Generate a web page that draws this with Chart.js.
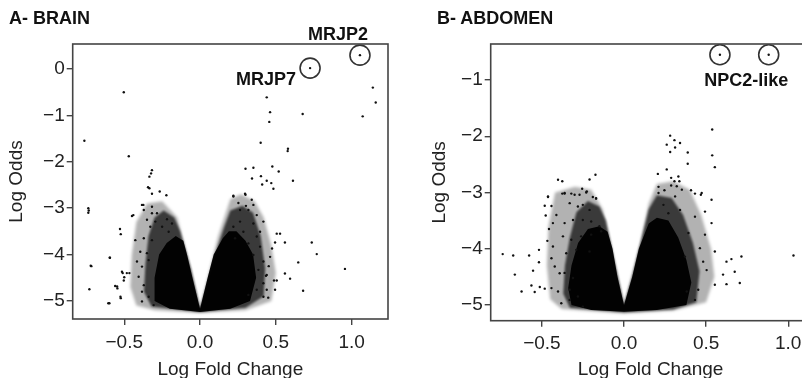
<!DOCTYPE html>
<html>
<head>
<meta charset="utf-8">
<script src="https://cdn.jsdelivr.net/npm/chart.js@4.4.1/dist/chart.umd.min.js"></script>
<style>
  html, body { margin: 0; padding: 0; background: #fff; width: 802px; height: 378px; overflow: hidden; }
  .panel { position: absolute; top: 0; height: 378px; }
  #brainWrap { left: 0; width: 400px; }
  #abdomenWrap { left: 400px; width: 422px; }
  .label { position: absolute; top: 8px; font: bold 18px "Liberation Sans", Arial, sans-serif; color: #111; white-space: nowrap; }
</style>
</head>
<body>
<div class="panel" id="brainWrap"><canvas id="brain" width="400" height="378"></canvas></div>
<div class="panel" id="abdomenWrap"><canvas id="abdomen" width="422" height="378"></canvas></div>
<div class="label" style="left:9px">A- BRAIN</div>
<div class="label" style="left:437px">B- ABDOMEN</div>
<script>
// ---- data ----
const xTicks = [-0.5, 0, 0.5, 1.0];
const brainYTicks = [-5, -4, -3, -2, -1, 0];
const abdomenYTicks = [-5, -4, -3, -2, -1];

// outlines of the cloud (log fold change, log odds): solid core, speckled middle, thin outer fringe
const brainCore = [[0,-5.17],[-0.05,-4.5],[-0.086,-4.0],[-0.11,-3.7],[-0.16,-3.6],[-0.22,-3.75],[-0.27,-4.0],
  [-0.3,-4.5],[-0.3,-5.0],[-0.2,-5.17],[0,-5.24],[0.2,-5.17],[0.33,-5.0],[0.37,-4.5],[0.35,-4.0],[0.3,-3.7],
  [0.24,-3.5],[0.19,-3.5],[0.15,-3.65],[0.09,-4.0],[0.05,-4.5],[0,-5.17]];
const brainMid = [[0,-5.17],[-0.06,-4.3],[-0.13,-3.5],[-0.17,-3.2],[-0.24,-3.05],[-0.3,-3.2],[-0.34,-3.6],
  [-0.36,-4.2],[-0.37,-4.8],[-0.32,-5.12],[0,-5.24],[0.3,-5.15],[0.42,-4.9],[0.43,-4.3],[0.4,-3.6],[0.35,-3.1],
  [0.28,-2.95],[0.2,-3.05],[0.16,-3.4],[0.1,-4.0],[0.05,-4.6],[0,-5.17]];
const brainFringe = [[0,-5.17],[-0.15,-3.2],[-0.25,-2.85],[-0.35,-2.9],[-0.42,-3.3],[-0.45,-4.0],[-0.46,-4.7],
  [-0.42,-5.1],[-0.3,-5.2],[0,-5.26],[0.3,-5.2],[0.47,-5.0],[0.5,-4.4],[0.47,-3.8],[0.42,-3.2],[0.36,-2.85],
  [0.27,-2.7],[0.2,-2.8],[0.12,-3.6],[0,-5.17]];
const brainPoints = [
  [-0.503,-0.50],[-0.763,-1.545],[-0.47,-1.88],[-0.317,-2.18],[-0.323,-2.25],[-0.334,-2.32],[-0.343,-2.55],
  [-0.334,-2.57],[-0.317,-2.69],[-0.266,-2.64],[-0.222,-2.72],
  [1.14,-0.40],[1.159,-0.72],[1.073,-1.02],[0.677,-0.97],[0.44,-0.61],[0.462,-0.93],[0.457,-1.14],[0.40,-1.59],
  [0.58,-1.72],[0.578,-1.77],[0.30,-2.15],[0.352,-2.13],[0.477,-2.10],[0.519,-2.21],[0.343,-2.36],[0.402,-2.31],
  [0.44,-2.41],[0.47,-2.46],[0.41,-2.49],[0.484,-2.58],[0.613,-2.41],[0.22,-2.73],[0.30,-2.71],
  [-0.737,-3.0],[-0.737,-3.1],[-0.721,-4.24],[-0.73,-4.75],[-0.594,-4.07],[-0.605,-5.05],[-0.528,-3.45],
  [-0.523,-3.56],[-0.51,-4.40],[-0.50,-4.49],[-0.56,-4.68],[-0.545,-4.73],[-0.523,-4.94],[-0.483,-4.40],
  [-0.466,-4.40],[-0.44,-3.15],[-0.374,-2.93],
  [0.56,-3.74],[0.737,-3.74],[0.77,-3.99],[0.648,-4.17],[0.956,-4.31],[0.68,-4.78],[0.56,-4.41],[0.594,-4.52],
  [0.506,-4.56],[0.44,-4.76],[0.495,-4.76],[0.528,-3.55],[0.506,-3.55],[0.495,-3.74],[0.418,-3.29],[0.297,-2.69],
  [0.303,-2.95],[0.352,-2.93],[0.396,-3.51],[0.462,-4.05],[0.475,-3.87],[0.453,-4.25],[0.435,-4.46],[0.418,-4.91],
  [0.45,-4.93],[0.488,-4.56],
  [-0.383,-2.93],[-0.317,-2.97],[-0.371,-3.04],[-0.317,-3.11],[-0.284,-3.11],[-0.449,-3.17],[-0.35,-3.25],
  [-0.295,-3.29],[-0.218,-3.24],[-0.185,-3.33],[-0.328,-3.40],[-0.25,-3.40],[-0.207,-3.51],[-0.427,-3.69],
  [-0.371,-3.65],[-0.317,-3.69],[-0.394,-3.94],[-0.35,-3.97],[-0.416,-4.15],[-0.383,-4.26],[-0.339,-4.12],
  [-0.405,-4.48],[-0.371,-4.66],[-0.383,-4.80],[-0.339,-4.91],[-0.306,-5.09],[-0.383,-5.01],[-0.515,-4.37],
  [-0.547,-4.69],[-0.503,-4.56],[-0.525,-4.91],[-0.598,-5.05],[-0.596,-4.07],[-0.717,-4.25],[-0.734,-3.05],
  [0.22,-2.75],[0.253,-2.89],[0.319,-3.04],[0.374,-3.15],[0.264,-3.29],[0.352,-3.33],[0.22,-3.40],[0.286,-3.51],
  [0.374,-3.61],[0.231,-3.65],[0.319,-3.76],[0.396,-3.83],[0.352,-4.01],[0.418,-4.15],[0.385,-4.33],[0.44,-4.44],
  [0.418,-4.62],[0.374,-4.76],[0.319,-4.87],[0.264,-3.04],[0.341,-2.82]
];
const brainHighlight = [[0.726,0.02],[1.055,0.30]];
const brainHighlightNames = ['MRJP7', 'MRJP2'];

const abdomenCore = [[0,-5.0],[-0.04,-4.5],[-0.07,-4.0],[-0.1,-3.7],[-0.15,-3.6],[-0.22,-3.65],[-0.28,-3.9],
  [-0.32,-4.3],[-0.34,-4.7],[-0.32,-5.0],[-0.2,-5.09],[0,-5.12],[0.2,-5.09],[0.38,-5.0],[0.41,-4.6],[0.38,-4.2],
  [0.33,-3.8],[0.27,-3.5],[0.2,-3.45],[0.15,-3.55],[0.09,-4.0],[0.05,-4.5],[0,-5.0]];
const abdomenMid = [[0,-5.0],[-0.06,-4.2],[-0.11,-3.5],[-0.15,-3.25],[-0.22,-3.15],[-0.29,-3.35],[-0.33,-3.8],
  [-0.36,-4.3],[-0.37,-4.8],[-0.33,-5.05],[0,-5.13],[0.3,-5.08],[0.44,-4.95],[0.46,-4.4],[0.42,-3.9],[0.36,-3.4],
  [0.29,-3.1],[0.2,-3.05],[0.15,-3.3],[0.1,-3.9],[0.05,-4.5],[0,-5.0]];
const abdomenFringe = [[0,-5.0],[-0.13,-3.3],[-0.2,-2.95],[-0.3,-2.9],[-0.42,-3.0],[-0.46,-3.6],[-0.47,-4.3],
  [-0.45,-4.9],[-0.38,-5.07],[0,-5.15],[0.3,-5.1],[0.5,-4.95],[0.55,-4.5],[0.53,-4.0],[0.47,-3.4],[0.4,-2.95],
  [0.3,-2.8],[0.2,-2.85],[0.15,-3.2],[0.1,-3.9],[0,-5.0]];
const abdomenPoints = [
  [0.537,-1.88],[0.537,-2.34],[0.553,-2.55],[0.281,-1.99],[0.26,-2.15],[0.307,-2.07],[0.341,-2.12],[0.311,-2.20],
  [0.281,-2.28],[0.388,-2.29],[0.388,-2.49],[0.26,-2.59],[0.206,-2.67],[0.331,-2.715],[0.287,-2.74],[0.307,-2.80],
  [0.337,-2.80],[0.287,-2.875],[0.321,-2.89],[0.352,-2.95],[0.21,-2.90],[0.246,-2.96],[0.408,-2.96],[0.432,-3.02],
  [0.468,-3.04],
  [-0.402,-2.774],[-0.376,-2.80],[-0.21,-2.77],[-0.174,-2.685],[-0.255,-2.934],[-0.227,-2.98],[-0.376,-3.02],
  [-0.362,-3.02],[-0.301,-3.04],[-0.463,-3.08],[-0.19,-3.08],[-0.17,-3.11],
  [-0.739,-4.096],[-0.675,-4.12],[-0.665,-4.46],[-0.624,-4.76],[-0.578,-4.12],[-0.554,-4.39],[-0.518,-4.02],
  [-0.518,-4.24],[-0.564,-4.655],[-0.544,-4.77],[-0.513,-4.68],[-0.483,-4.71],[-0.442,-4.70],
  [-0.463,-3.07],[-0.483,-3.237],[-0.442,-3.24],[-0.477,-3.41],[-0.412,-3.40],[-0.433,-3.545],[-0.457,-3.65],
  [-0.467,-3.86],[-0.433,-3.96],[-0.442,-4.17],[-0.422,-4.316],[-0.392,-4.435],[-0.402,-4.76],[-0.382,-4.97],
  [-0.362,-3.01],[-0.321,-3.02],[-0.271,-3.04],[-0.23,-3.00],[-0.331,-3.19],[-0.281,-3.25],[-0.251,-3.22],
  [-0.21,-3.31],[-0.17,-3.10],[-0.362,-3.545],[-0.311,-3.49],[-0.251,-3.49],[-0.2,-3.515],[-0.15,-3.60],
  [-0.372,-3.78],[-0.321,-3.84],[-0.261,-3.78],[-0.2,-3.75],[-0.139,-3.69],[-0.352,-4.08],[-0.291,-4.02],
  [-0.21,-4.05],[-0.362,-4.43],[-0.311,-4.52],[-0.331,-4.73],[-0.281,-4.85],[-0.251,-5.03],[-0.331,-4.91],
  [1.032,-4.12],[0.715,-4.139],[0.705,-4.61],[0.624,-4.63],[0.674,-4.41],[0.654,-4.185],[0.624,-4.23],[0.603,-4.46],
  [0.553,-4.05],[0.533,-3.545],[0.493,-3.34],[0.533,-3.13],[0.473,-3.01],[0.432,-3.43],[0.493,-3.75],[0.462,-3.99],
  [0.482,-4.23],[0.503,-4.38],[0.553,-4.64],[0.452,-4.73],[0.432,-4.91],[0.382,-4.76],[0.371,-4.14],[0.392,-3.72],
  [0.341,-3.31],[0.311,-3.07],[0.21,-3.01],[0.24,-3.22],[0.27,-3.37]
];
const abdomenHighlight = [[0.584,-0.55],[0.881,-0.55]];
const abdomenHighlightNames = ['NPC2-like'];

// ---- helpers ----
const FAMILY = '"Liberation Sans", Arial, Helvetica, sans-serif';
const toXY = arr => arr.map(([x, y]) => ({x, y}));
const minus = s => String(s).replace('-', '\u2212');

// box round the plot + bold gene names
const boxAndNames = {
  id: 'boxAndNames',
  afterDatasetsDraw(chart, args, opts) {
    const {ctx, chartArea: {left, top, right, bottom}, scales: {x, y}} = chart;
    ctx.save();
    ctx.filter = 'none';
    ctx.strokeStyle = '#444';
    ctx.lineWidth = 1.6;
    ctx.strokeRect(left, top, right - left, bottom - top);
    ctx.font = 'bold 18px ' + FAMILY;
    ctx.fillStyle = '#111';
    ctx.textAlign = 'center';
    ctx.textBaseline = 'middle';
    opts.names.forEach(n => {
      const px = n.at.reduce((s, p) => s + x.getPixelForValue(p[0]), 0) / n.at.length;
      const py = n.at.reduce((s, p) => s + y.getPixelForValue(p[1]), 0) / n.at.length;
      ctx.fillText(n.text, px + n.dx, py + n.dy);
    });
    ctx.restore();
  }
};

// soften the edges of the filled cloud areas so they read like dense dots
// (the filler draws a dataset's area just before that dataset, so the blur
//  is switched on after the previous dataset)
const drawOrder = chart => chart.getSortedVisibleDatasetMetas().slice().reverse();
const blurFor = (chart, meta) => {
  const b = meta && chart.data.datasets[meta.index].blur;
  return b ? 'blur(' + b + 'px)' : 'none';
};
const softEdges = {
  id: 'softEdges',
  beforeDatasetsDraw(chart) {
    chart.ctx.filter = blurFor(chart, drawOrder(chart)[0]);
  },
  afterDatasetDraw(chart, args) {
    const order = drawOrder(chart);
    const pos = order.indexOf(args.meta);
    chart.ctx.filter = blurFor(chart, order[pos + 1]);
  },
  afterDatasetsDraw(chart) {
    chart.ctx.filter = 'none';
  }
};

const area = (pts, color, blur, order) => ({
  type: 'line', data: toXY(pts), fill: 'shape', backgroundColor: color, blur,
  borderWidth: 0, pointRadius: 0, tension: 0, order
});

function volcano(id, p) {
  return new Chart(document.getElementById(id), {
    type: 'scatter',
    data: {
      datasets: [
        area(p.fringe, 'rgba(0,0,0,0.3)', 1.5, 6),
        area(p.mid, 'rgba(0,0,0,0.68)', 1.2, 5),
        area(p.core, 'rgba(0,0,0,0.97)', 0.6, 4),
        { data: toXY(p.points), pointRadius: 1.2, backgroundColor: '#111', borderWidth: 0, order: 2 },
        { data: toXY(p.highlight), pointRadius: 1.2, backgroundColor: '#111', borderWidth: 0, order: 1 },
        { data: toXY(p.highlight), pointRadius: 10, backgroundColor: 'rgba(0,0,0,0)', borderColor: '#333',
          borderWidth: 1.6, order: 0 }
      ]
    },
    options: {
      animation: false,
      responsive: false,
      events: [],
      layout: { padding: { top: 44, left: 0, right: p.padRight, bottom: 0 } },
      plugins: {
        legend: { display: false },
        tooltip: { enabled: false },
        filler: { drawTime: 'beforeDatasetDraw' },
        boxAndNames: { names: p.names }
      },
      scales: {
        x: {
          type: 'linear', min: p.xMin, max: p.xMax,
          afterBuildTicks: s => { s.ticks = xTicks.map(v => ({value: v})); },
          afterFit: s => { s.height = p.xAxisHeight; },
          grid: { drawOnChartArea: false, drawTicks: true, tickLength: 6, color: '#444', lineWidth: 1.4 },
          border: { display: false },
          ticks: { callback: v => minus(v.toFixed(1)), font: { size: 19, family: FAMILY }, color: '#222',
                   padding: 6, maxRotation: 0, autoSkip: false },
          title: { display: true, text: 'Log Fold Change', color: '#222', padding: 0,
                   font: { size: 19, family: FAMILY, lineHeight: 0.9 } }
        },
        y: {
          min: p.yMin, max: p.yMax,
          afterBuildTicks: s => { s.ticks = p.yTicks.map(v => ({value: v})); },
          afterFit: s => { s.width = p.yAxisWidth; },
          grid: { drawOnChartArea: false, drawTicks: true, tickLength: 6, color: '#444', lineWidth: 1.4 },
          border: { display: false },
          ticks: { callback: v => minus(v), font: { size: 19, family: FAMILY }, color: '#222', padding: 2 },
          title: { display: true, text: 'Log Odds', color: '#222', padding: { top: p.yTitlePad },
                   font: { size: 19, family: FAMILY, lineHeight: 1 } }
        }
      }
    },
    plugins: [softEdges, boxAndNames]
  });
}

volcano('brain', {
  core: brainCore, mid: brainMid, fringe: brainFringe, points: brainPoints, highlight: brainHighlight,
  names: [
    { text: brainHighlightNames[0], at: [brainHighlight[0]], dx: -44, dy: 12 },
    { text: brainHighlightNames[1], at: [brainHighlight[1]], dx: -22, dy: -20 }
  ],
  yTicks: brainYTicks, xMin: -0.84, xMax: 1.24, yMin: -5.39, yMax: 0.54,
  yAxisWidth: 72.7, xAxisHeight: 59, padRight: 12, yTitlePad: 7
});

volcano('abdomen', {
  core: abdomenCore, mid: abdomenMid, fringe: abdomenFringe, points: abdomenPoints, highlight: abdomenHighlight,
  names: [ { text: abdomenHighlightNames[0], at: abdomenHighlight, dx: 2, dy: 26 } ],
  yTicks: abdomenYTicks, xMin: -0.812, xMax: 1.135, yMin: -5.28, yMax: -0.36,
  yAxisWidth: 90.7, xAxisHeight: 57.3, padRight: 10, yTitlePad: 30
});
</script>
</body>
</html>
